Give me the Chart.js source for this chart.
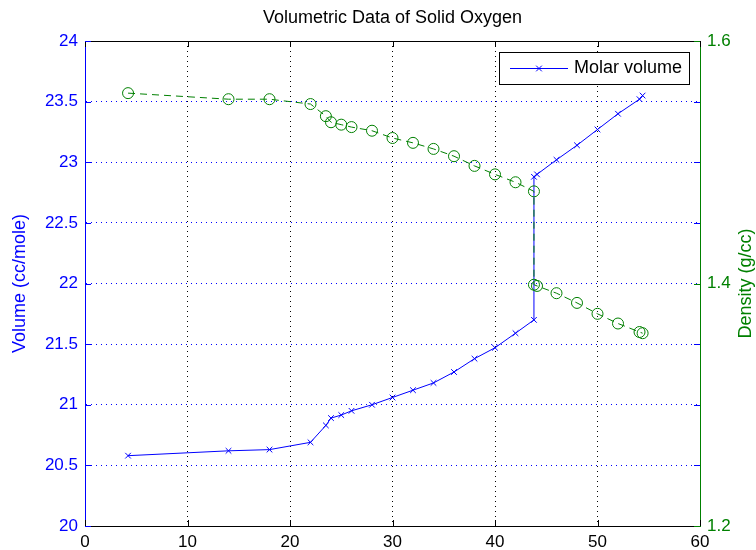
<!DOCTYPE html>
<html>
<head>
<meta charset="utf-8">
<title>Volumetric Data of Solid Oxygen</title>
<script src="https://cdn.jsdelivr.net/npm/chart.js@4.4.1/dist/chart.umd.min.js"></script>
<style>
  html, body { margin:0; padding:0; background:#fff; }
  #wrap { width:756px; height:550px; }
</style>
</head>
<body>
<div id="wrap"><canvas id="oxygenChart" width="756" height="550"></canvas></div>
<script>
// temperature (K) vs molar volume and density of solid O2
const temperature = [4.2, 14, 18, 22, 23.5, 24, 25, 26, 28, 30, 32, 34, 36, 38, 40, 42, 43.8, 43.8, 44.1, 46, 48, 50, 52, 54.1, 54.4];
const molarVolume = [20.58, 20.62, 20.63, 20.69, 20.83, 20.89, 20.915, 20.95, 21.00, 21.06, 21.12, 21.18, 21.27, 21.38, 21.47, 21.59, 21.70, 22.88, 22.90, 23.02, 23.14, 23.27, 23.40, 23.52, 23.55];
const density = [1.557, 1.552, 1.552, 1.548, 1.538, 1.533, 1.531, 1.529, 1.526, 1.520, 1.516, 1.511, 1.505, 1.497, 1.490, 1.4835, 1.476, 1.399, 1.398, 1.392, 1.384, 1.375, 1.367, 1.360, 1.359];

const tempTicks = [0, 10, 20, 30, 40, 50, 60];
const volumeTicks = [20, 20.5, 21, 21.5, 22, 22.5, 23, 23.5, 24];
const densityTicks = [1.2, 1.4, 1.6];

const BLUE = '#0000ff', GREEN = '#008000';
const FONT = '"Liberation Sans", Arial, Helvetica, sans-serif';

const pts = ys => temperature.map((t, i) => ({x: t, y: ys[i]}));
const fixTicks = list => scale => { scale.ticks = list.map(v => ({value: v})); };
// no grid line on the frame edges
const inner = color => c => (c.index === 0 || c.index === c.scale.ticks.length - 1) ? 'rgba(0,0,0,0)' : color;

function seg(ctx, x1, y1, x2, y2) {
  ctx.beginPath(); ctx.moveTo(x1, y1); ctx.lineTo(x2, y2); ctx.stroke();
}
const px = v => Math.round(v) + 0.5;

// inward ticks, top edge, right axis label and legend box
const framePlugin = {
  id: 'frame',
  afterDraw(chart) {
    const {ctx, chartArea: a, scales} = chart;
    const TL = 6;
    ctx.save();
    ctx.lineWidth = 1;

    ctx.strokeStyle = '#000';
    seg(ctx, a.left, px(a.top), a.right, px(a.top));
    tempTicks.forEach(v => {
      const x = px(scales.x.getPixelForValue(v));
      seg(ctx, x, a.bottom, x, a.bottom - TL);
      seg(ctx, x, a.top, x, a.top + TL);
    });

    ctx.strokeStyle = BLUE;
    volumeTicks.forEach(v => {
      const y = px(scales.y.getPixelForValue(v));
      seg(ctx, a.left, y, a.left + TL, y);
      seg(ctx, a.right, y, a.right - TL, y);
    });

    ctx.strokeStyle = GREEN;
    densityTicks.forEach(v => {
      const y = px(scales.y1.getPixelForValue(v));
      seg(ctx, a.right, y, a.right - TL, y);
    });

    // right label reads bottom to top like the left one
    ctx.fillStyle = GREEN;
    ctx.font = '18px ' + FONT;
    ctx.textAlign = 'center';
    ctx.textBaseline = 'middle';
    ctx.translate(746, (a.top + a.bottom) / 2);
    ctx.rotate(-Math.PI / 2);
    ctx.fillText('Density (g/cc)', 0, 0);
    ctx.setTransform(1, 0, 0, 1, 0, 0);

    // legend, volume series only
    const label = chart.data.datasets[1].label;
    ctx.font = '18px ' + FONT;
    const tw = ctx.measureText(label).width;
    const h = 32, w = 11 + 58 + 6 + tw + 7;
    const lx = Math.round(a.right - 11 - w), ly = Math.round(a.top + 11);
    ctx.fillStyle = '#fff';
    ctx.fillRect(lx, ly, w, h);
    ctx.strokeStyle = '#000';
    ctx.strokeRect(lx + 0.5, ly + 0.5, Math.round(w), h);
    const my = ly + h / 2 + 0.5;
    ctx.strokeStyle = BLUE;
    seg(ctx, lx + 11, my, lx + 69, my);
    Chart.helpers.drawPoint(ctx, {pointStyle: 'crossRot', radius: 4, borderWidth: 1}, lx + 40, my);
    ctx.fillStyle = '#000';
    ctx.textAlign = 'left';
    ctx.fillText(label, lx + 75, my);
    ctx.restore();
  }
};

new Chart(document.getElementById('oxygenChart'), {
  type: 'line',
  data: {
    datasets: [
      {
        label: 'Density',
        data: pts(density),
        yAxisID: 'y1',
        borderColor: GREEN,
        borderWidth: 1,
        borderDash: [7, 5],
        pointStyle: 'circle',
        pointRadius: 5.5,
        pointBorderWidth: 1,
        pointBorderColor: GREEN,
        pointBackgroundColor: 'rgba(0,0,0,0)',
        tension: 0,
        order: 0
      },
      {
        label: 'Molar volume',
        data: pts(molarVolume),
        yAxisID: 'y',
        borderColor: BLUE,
        borderWidth: 1,
        pointStyle: 'crossRot',
        pointRadius: 4,
        pointBorderWidth: 1,
        pointBorderColor: BLUE,
        tension: 0,
        order: 1
      }
    ]
  },
  options: {
    responsive: false,
    animation: false,
    events: [],
    layout: {padding: 0},
    plugins: {
      legend: {display: false},
      tooltip: {enabled: false},
      title: {
        display: true,
        text: 'Volumetric Data of Solid Oxygen',
        fullSize: false,
        color: '#000',
        font: {family: FONT, size: 18, weight: 'normal'},
        padding: {top: 7.5, bottom: 11.9}
      }
    },
    scales: {
      x: {
        type: 'linear',
        min: 0, max: 60,
        afterBuildTicks: fixTicks(tempTicks),
        afterFit: s => { s.height = 24; },
        ticks: {color: '#000', font: {family: FONT, size: 17}, padding: 6, callback: v => String(v)},
        grid: {color: inner('#000'), drawTicks: false, lineWidth: 1},
        border: {color: '#000', dash: [1, 4]}
      },
      y: {
        type: 'linear',
        position: 'left',
        min: 20, max: 24,
        afterBuildTicks: fixTicks(volumeTicks),
        afterFit: s => { s.width = 85; },
        ticks: {color: BLUE, font: {family: FONT, size: 17}, padding: 7, callback: v => String(v)},
        grid: {color: inner(BLUE), drawTicks: false, lineWidth: 1},
        border: {color: BLUE, dash: [1, 4]},
        title: {display: true, text: 'Volume (cc/mole)', color: BLUE, font: {family: FONT, size: 18}, padding: {top: 9, bottom: 0}}
      },
      y1: {
        type: 'linear',
        position: 'right',
        min: 1.2, max: 1.6,
        afterBuildTicks: fixTicks(densityTicks),
        afterFit: s => { s.width = 56; },
        ticks: {color: GREEN, font: {family: FONT, size: 17}, padding: 7, callback: v => String(v)},
        grid: {display: false, drawTicks: false},
        border: {color: GREEN}
      }
    }
  },
  plugins: [framePlugin]
});
</script>
</body>
</html>
